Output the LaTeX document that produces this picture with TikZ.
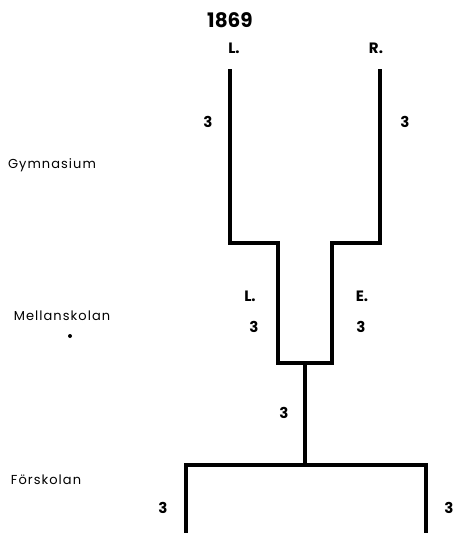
\documentclass[tikz,border=0pt]{standalone}
\usepackage{fontspec}
\setmainfont{Poppins}
\newfontfamily\lblfont[LetterSpace=8]{Poppins}
\newfontfamily\numfont{Poppins}
\tikzset{
  bar/.style={line width=3.2pt, line cap=butt, line join=miter},
  level/.style={font=\lblfont\fontsize{13}{14}\selectfont, inner sep=0pt},
  num/.style={font=\numfont\bfseries\fontsize{15}{16}\selectfont, inner sep=0pt},
  yr/.style={font=\numfont\bfseries\fontsize{20}{22}\selectfont, inner sep=0pt}
}
\begin{document}
\begin{tikzpicture}[x=1pt,y=-1pt]
\useasboundingbox (0,0) rectangle (454,533);
% named points
\coordinate (lt) at (230,69);
\coordinate (lb) at (230,243);
\coordinate (mlt) at (278,243);
\coordinate (mlb) at (278,363);
\coordinate (mrb) at (332,363);
\coordinate (mrt) at (332,243);
\coordinate (rb) at (380,243);
\coordinate (rt) at (380,69);
\coordinate (st) at (305,363);
\coordinate (sb) at (305,465);
\coordinate (bl) at (186,465);
\coordinate (br) at (426,465);
\coordinate (blb) at (186,533);
\coordinate (brb) at (426,533);
% structure
\draw[bar] (lt) -- (lb) -- (mlt) -- (mlb) -- (mrb) -- (mrt) -- (rb) -- (rt);
\draw[bar] (st) -- (sb);
\draw[bar] (blb) -- (bl) -- (br) -- (brb);
% texts
\node[yr] (year) at (230,20) {1869};
\node[num] (tl) at (234,48) {L.};
\node[num] (tr) at (376,48) {R.};
\node[num] (n1) at (208,122) {3};
\node[num] (n2) at (405,122) {3};
\node[level] (gym) at (52,165) {Gymnasium};
\node[num] (ml) at (250,296) {L.};
\node[num] (me) at (362,296) {E.};
\node[num] (n3) at (254,327) {3};
\node[num] (n4) at (361,327) {3};
\node[level] (mel) at (62,316) {Mellanskolan};
\fill (70,336) circle (2pt);
\node[num] (n5) at (284,413) {3};
\node[level] (for) at (46,480) {Förskolan};
\node[num] (n6) at (163,508) {3};
\node[num] (n7) at (449,508) {3};
\end{tikzpicture}
\end{document}
